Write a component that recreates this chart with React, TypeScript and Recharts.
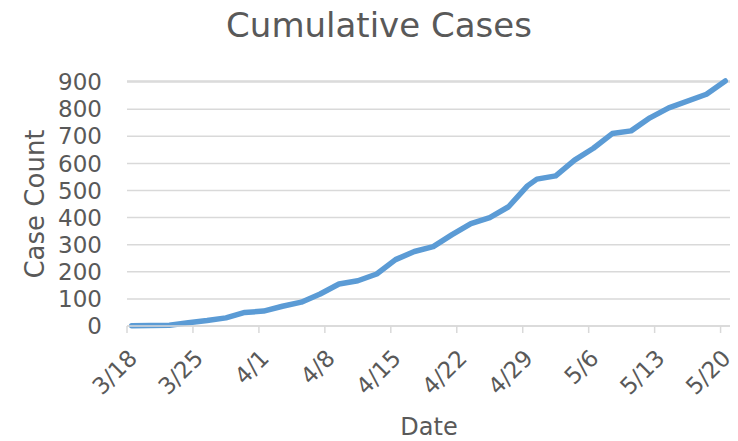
import React from "react";
import { CartesianGrid, Label, Line, LineChart, XAxis, YAxis } from "recharts";

const dayOffsets = [0, 2, 4, 6, 8, 10, 12, 14, 16, 18, 20, 22, 24, 26, 28, 30, 32, 34, 36, 38, 40, 42, 43, 45, 47, 49, 51, 53, 55, 57, 61, 63];
const cases = [1, 2, 3, 12, 20, 30, 50, 55, 73, 88, 118, 155, 167, 192, 245, 275, 293, 337, 378, 400, 440, 517, 542, 554, 612, 656, 710, 720, 768, 805, 855, 904];

// date axis sits "between tick marks": each tick is the left edge of its day
const tickDays = [-0.5, 6.5, 13.5, 20.5, 27.5, 34.5, 41.5, 48.5, 55.5, 62.5];
const tickLabels = ["3/18", "3/25", "4/1", "4/8", "4/15", "4/22", "4/29", "5/6", "5/13", "5/20"];
const yTicks = [0, 100, 200, 300, 400, 500, 600, 700, 800, 900];

const data = dayOffsets.map((d, i) => ({ day: d, cases: cases[i] }));

const FONT = "'DejaVu Sans', sans-serif";
const TEXT = "#595959";
const GRID = "#d9d9d9";

export default function App() {
    return (
        <div style={{ position: "fixed", left: 0, top: 0, width: 738, height: 441, background: "#fff", fontFamily: FONT }}>
            <div
                style={{
                    position: "absolute",
                    top: 5,
                    left: 0,
                    width: 758,
                    textAlign: "center",
                    fontSize: 34,
                    lineHeight: "40px",
                    color: TEXT,
                }}
            >
                Cumulative Cases
            </div>
            <LineChart width={738} height={441} data={data} margin={{ top: 81, right: 8, left: 0, bottom: 0 }}>
                <CartesianGrid stroke={GRID} strokeWidth={1.5} vertical={false} />
                <XAxis
                    dataKey="day"
                    type="number"
                    domain={[-0.5, 63.5]}
                    ticks={tickDays}
                    interval={0}
                    tickFormatter={(v: number) => tickLabels[tickDays.indexOf(v)] ?? ""}
                    height={115}
                    stroke={GRID}
                    strokeWidth={1.5}
                    tickSize={7}
                    tickMargin={15}
                    angle={-45}
                    textAnchor="end"
                    tick={{ fill: TEXT, fontSize: 23, fontFamily: FONT }}
                >
                    <Label
                        content={() => (
                            <text x={429} y={435} textAnchor="middle" fill={TEXT} fontSize={24} fontFamily={FONT}>
                                Date
                            </text>
                        )}
                    />
                </XAxis>
                <YAxis
                    domain={[0, 900]}
                    ticks={yTicks}
                    interval={0}
                    width={127}
                    axisLine={false}
                    tickLine={false}
                    tickSize={6}
                    tickMargin={19}
                    tick={{ fill: TEXT, fontSize: 23, fontFamily: FONT }}
                >
                    <Label
                        content={() => {
                            const cx = 35;
                            const cy = 204;
                            return (
                                <text
                                    x={cx}
                                    y={cy}
                                    transform={`rotate(-90 ${cx} ${cy})`}
                                    textAnchor="middle"
                                    dominantBaseline="central"
                                    fill={TEXT}
                                    fontSize={26}
                                    fontFamily={FONT}
                                >
                                    Case Count
                                </text>
                            );
                        }}
                    />
                </YAxis>
                <Line
                    type="linear"
                    dataKey="cases"
                    stroke="#5b9bd5"
                    strokeWidth={5.5}
                    strokeLinecap="round"
                    strokeLinejoin="round"
                    dot={false}
                    isAnimationActive={false}
                />
            </LineChart>
        </div>
    );
}
